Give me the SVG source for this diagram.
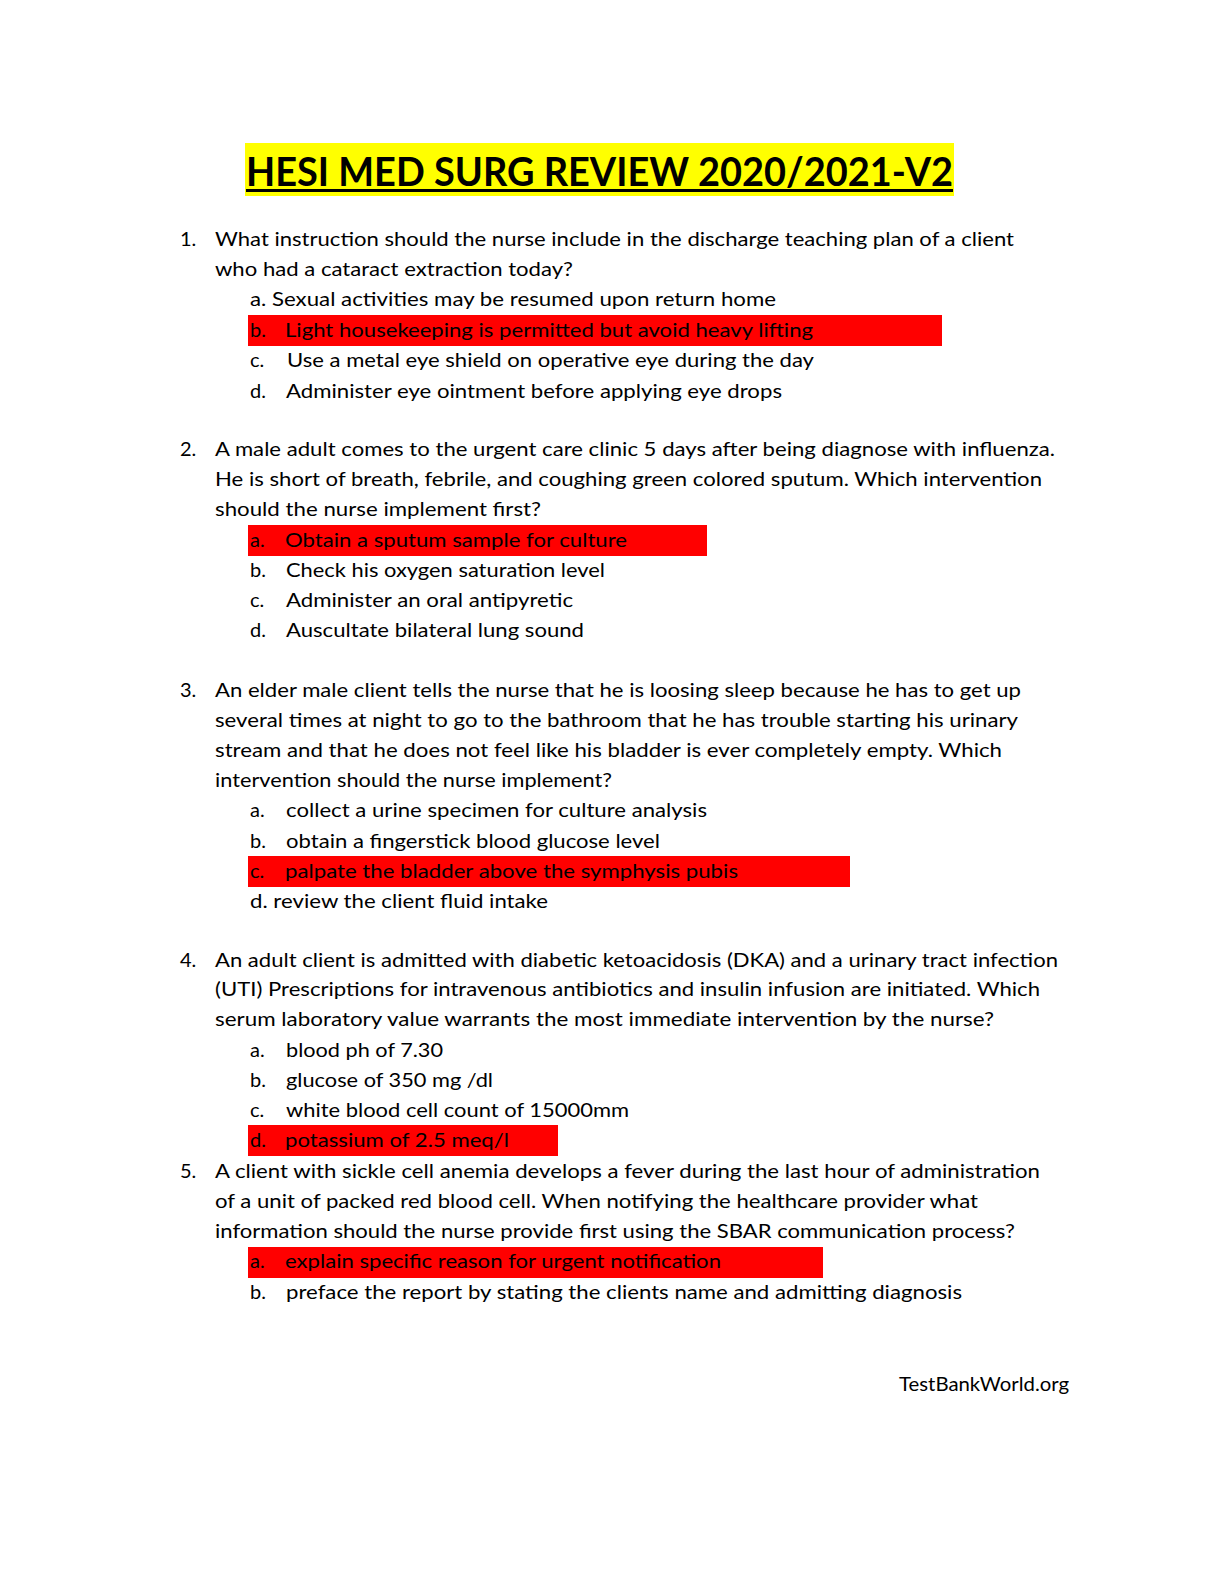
<svg xmlns="http://www.w3.org/2000/svg" width="1224" height="1584" viewBox="0 0 1224 1584">
<style>
text{font-family:Lato,"Liberation Sans",sans-serif;fill:#000;font-size:20px}
.t{font-weight:bold;font-size:41px}
.hl{fill:#ff0000}
.yl{fill:#ffff00}
</style>
<rect width="1224" height="1584" fill="#fff"/>
<g id="title">
<rect class="yl" x="245" y="143" width="709" height="53"/>
<text class="t" x="246" y="186" textLength="707" lengthAdjust="spacingAndGlyphs">HESI MED SURG REVIEW 2020/2021-V2</text>
<rect x="246" y="189" width="707" height="3" fill="#000"/>
</g>
<g id="q1">
<rect class="hl" x="248" y="315" width="694" height="31"/>
<text x="180" y="246">1.</text>
<text x="215" y="246" textLength="799" lengthAdjust="spacingAndGlyphs">What instruction should the nurse include in the discharge teaching plan of a client</text>
<text x="215" y="276" textLength="358" lengthAdjust="spacingAndGlyphs">who had a cataract extraction today?</text>
<text x="250" y="306" textLength="526" lengthAdjust="spacingAndGlyphs">a. Sexual activities may be resumed upon return home</text>
<text x="250" y="337">b.</text>
<text x="285" y="337" textLength="528" lengthAdjust="spacingAndGlyphs">Light housekeeping is permitted but avoid heavy lifting</text>
<text x="250" y="367">c.</text>
<text x="287" y="367" textLength="527" lengthAdjust="spacingAndGlyphs">Use a metal eye shield on operative eye during the day</text>
<text x="250" y="398">d.</text>
<text x="286" y="398" textLength="496" lengthAdjust="spacingAndGlyphs">Administer eye ointment before applying eye drops</text>
</g>
<g id="q2">
<rect class="hl" x="248" y="525" width="459" height="31"/>
<text x="180" y="456">2.</text>
<text x="215" y="456" textLength="840" lengthAdjust="spacingAndGlyphs">A male adult comes to the urgent care clinic 5 days after being diagnose with influenza.</text>
<text x="215" y="486" textLength="827" lengthAdjust="spacingAndGlyphs">He is short of breath, febrile, and coughing green colored sputum. Which intervention</text>
<text x="215" y="516" textLength="326" lengthAdjust="spacingAndGlyphs">should the nurse implement first?</text>
<text x="250" y="547">a.</text>
<text x="285" y="547" textLength="342" lengthAdjust="spacingAndGlyphs">Obtain a sputum sample for culture</text>
<text x="250" y="577">b.</text>
<text x="286" y="577" textLength="319" lengthAdjust="spacingAndGlyphs">Check his oxygen saturation level</text>
<text x="250" y="607">c.</text>
<text x="286" y="607" textLength="287" lengthAdjust="spacingAndGlyphs">Administer an oral antipyretic</text>
<text x="250" y="637">d.</text>
<text x="286" y="637" textLength="298" lengthAdjust="spacingAndGlyphs">Auscultate bilateral lung sound</text>
</g>
<g id="q3">
<rect class="hl" x="248" y="856" width="602" height="31"/>
<text x="180" y="697">3.</text>
<text x="215" y="697" textLength="806" lengthAdjust="spacingAndGlyphs">An elder male client tells the nurse that he is loosing sleep because he has to get up</text>
<text x="215" y="727" textLength="803" lengthAdjust="spacingAndGlyphs">several times at night to go to the bathroom that he has trouble starting his urinary</text>
<text x="215" y="757" textLength="787" lengthAdjust="spacingAndGlyphs">stream and that he does not feel like his bladder is ever completely empty. Which</text>
<text x="215" y="787" textLength="397" lengthAdjust="spacingAndGlyphs">intervention should the nurse implement?</text>
<text x="250" y="817">a.</text>
<text x="286" y="817" textLength="421" lengthAdjust="spacingAndGlyphs">collect a urine specimen for culture analysis</text>
<text x="250" y="848">b.</text>
<text x="286" y="848" textLength="374" lengthAdjust="spacingAndGlyphs">obtain a fingerstick blood glucose level</text>
<text x="250" y="878">c.</text>
<text x="285" y="878" textLength="453" lengthAdjust="spacingAndGlyphs">palpate the bladder above the symphysis pubis</text>
<text x="250" y="908" textLength="298" lengthAdjust="spacingAndGlyphs">d. review the client fluid intake</text>
</g>
<g id="q4">
<rect class="hl" x="248" y="1125" width="310" height="31"/>
<text x="180" y="967">4.</text>
<text x="215" y="967" textLength="843" lengthAdjust="spacingAndGlyphs">An adult client is admitted with diabetic ketoacidosis (DKA) and a urinary tract infection</text>
<text x="215" y="996" textLength="825" lengthAdjust="spacingAndGlyphs">(UTI) Prescriptions for intravenous antibiotics and insulin infusion are initiated. Which</text>
<text x="215" y="1026" textLength="779" lengthAdjust="spacingAndGlyphs">serum laboratory value warrants the most immediate intervention by the nurse?</text>
<text x="250" y="1057">a.</text>
<text x="286" y="1057" textLength="157" lengthAdjust="spacingAndGlyphs">blood ph of 7.30</text>
<text x="250" y="1087">b.</text>
<text x="286" y="1087" textLength="207" lengthAdjust="spacingAndGlyphs">glucose of 350 mg /dl</text>
<text x="250" y="1117">c.</text>
<text x="286" y="1117" textLength="343" lengthAdjust="spacingAndGlyphs">white blood cell count of 15000mm</text>
<text x="250" y="1147">d.</text>
<text x="285" y="1147" textLength="224" lengthAdjust="spacingAndGlyphs">potassium of 2.5 meq/l</text>
</g>
<g id="q5">
<rect class="hl" x="248" y="1247" width="575" height="31"/>
<text x="180" y="1178">5.</text>
<text x="215" y="1178" textLength="825" lengthAdjust="spacingAndGlyphs">A client with sickle cell anemia develops a fever during the last hour of administration</text>
<text x="215" y="1208" textLength="763" lengthAdjust="spacingAndGlyphs">of a unit of packed red blood cell. When notifying the healthcare provider what</text>
<text x="215" y="1238" textLength="800" lengthAdjust="spacingAndGlyphs">information should the nurse provide first using the SBAR communication process?</text>
<text x="250" y="1268">a.</text>
<text x="285" y="1268" textLength="436" lengthAdjust="spacingAndGlyphs">explain specific reason for urgent notification</text>
<text x="250" y="1299">b.</text>
<text x="286" y="1299" textLength="676" lengthAdjust="spacingAndGlyphs">preface the report by stating the clients name and admitting diagnosis</text>
</g>
<g id="footer">
<text x="899" y="1391" textLength="170" lengthAdjust="spacingAndGlyphs">TestBankWorld.org</text>
</g>
</svg>
